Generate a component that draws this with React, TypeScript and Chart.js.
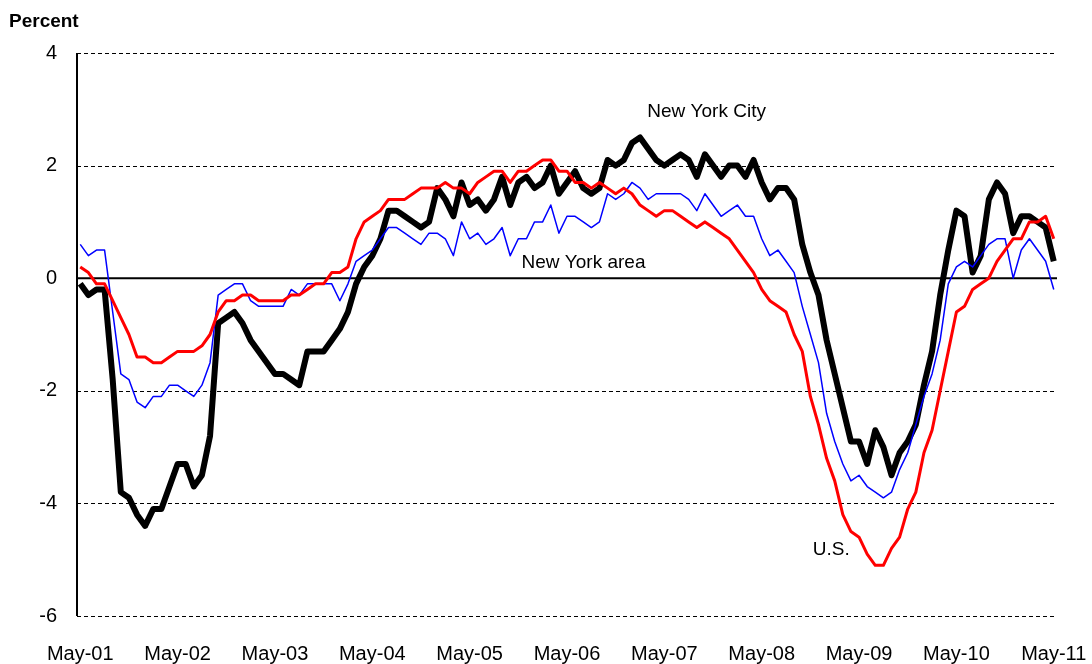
import { useEffect, useRef } from "react";
import { Chart, registerables } from "chart.js";

Chart.register(...registerables);

const xTickLabels = [
  "May-01", "May-02", "May-03", "May-04", "May-05", "May-06",
  "May-07", "May-08", "May-09", "May-10", "May-11",
];

const yTickValues = [4, 2, 0, -2, -4, -6];

// Monthly values, May 2001 .. May 2011 (121 months)
const nycValues = [
  -0.1, -0.3, -0.2, -0.2, -1.8, -3.8, -3.9, -4.2, -4.4, -4.1,
  -4.1, -3.7, -3.3, -3.3, -3.7, -3.5, -2.8, -0.8, -0.7, -0.6,
  -0.8, -1.1, -1.3, -1.5, -1.7, -1.7, -1.8, -1.9, -1.3, -1.3,
  -1.3, -1.1, -0.9, -0.6, -0.1, 0.2, 0.4, 0.7, 1.2, 1.2,
  1.1, 1.0, 0.9, 1.0, 1.6, 1.4, 1.1, 1.7, 1.3, 1.4,
  1.2, 1.4, 1.8, 1.3, 1.7, 1.8, 1.6, 1.7, 2.0, 1.5,
  1.7, 1.9, 1.6, 1.5, 1.6, 2.1, 2.0, 2.1, 2.4, 2.5,
  2.3, 2.1, 2.0, 2.1, 2.2, 2.1, 1.8, 2.2, 2.0, 1.8,
  2.0, 2.0, 1.8, 2.1, 1.7, 1.4, 1.6, 1.6, 1.4, 0.6,
  0.1, -0.3, -1.1, -1.7, -2.3, -2.9, -2.9, -3.3, -2.7, -3.0,
  -3.5, -3.1, -2.9, -2.6, -1.9, -1.3, -0.3, 0.5, 1.2, 1.1,
  0.1, 0.4, 1.4, 1.7, 1.5, 0.8, 1.1, 1.1, 1.0, 0.9,
  0.3,
];

const usValues = [
  0.2, 0.1, -0.1, -0.1, -0.4, -0.7, -1.0, -1.4, -1.4, -1.5,
  -1.5, -1.4, -1.3, -1.3, -1.3, -1.2, -1.0, -0.6, -0.4, -0.4,
  -0.3, -0.3, -0.4, -0.4, -0.4, -0.4, -0.3, -0.3, -0.2, -0.1,
  -0.1, 0.1, 0.1, 0.2, 0.7, 1.0, 1.1, 1.2, 1.4, 1.4,
  1.4, 1.5, 1.6, 1.6, 1.6, 1.7, 1.6, 1.6, 1.5, 1.7,
  1.8, 1.9, 1.9, 1.7, 1.9, 1.9, 2.0, 2.1, 2.1, 1.9,
  1.9, 1.7, 1.7, 1.6, 1.7, 1.6, 1.5, 1.6, 1.5, 1.3,
  1.2, 1.1, 1.2, 1.2, 1.1, 1.0, 0.9, 1.0, 0.9, 0.8,
  0.7, 0.5, 0.3, 0.1, -0.2, -0.4, -0.5, -0.6, -1.0, -1.3,
  -2.1, -2.6, -3.2, -3.6, -4.2, -4.5, -4.6, -4.9, -5.1, -5.1,
  -4.8, -4.6, -4.1, -3.8, -3.1, -2.7, -2.0, -1.3, -0.6, -0.5,
  -0.2, -0.1, 0.0, 0.3, 0.5, 0.7, 0.7, 1.0, 1.0, 1.1,
  0.7,
];

const nyAreaValues = [
  0.6, 0.4, 0.5, 0.5, -0.6, -1.7, -1.8, -2.2, -2.3, -2.1,
  -2.1, -1.9, -1.9, -2.0, -2.1, -1.9, -1.5, -0.3, -0.2, -0.1,
  -0.1, -0.4, -0.5, -0.5, -0.5, -0.5, -0.2, -0.3, -0.1, -0.1,
  -0.1, -0.1, -0.4, -0.1, 0.3, 0.4, 0.5, 0.7, 0.9, 0.9,
  0.8, 0.7, 0.6, 0.8, 0.8, 0.7, 0.4, 1.0, 0.7, 0.8,
  0.6, 0.7, 0.9, 0.4, 0.7, 0.7, 1.0, 1.0, 1.3, 0.8,
  1.1, 1.1, 1.0, 0.9, 1.0, 1.5, 1.4, 1.5, 1.7, 1.6,
  1.4, 1.5, 1.5, 1.5, 1.5, 1.4, 1.2, 1.5, 1.3, 1.1,
  1.2, 1.3, 1.1, 1.1, 0.7, 0.4, 0.5, 0.3, 0.1, -0.5,
  -1.0, -1.5, -2.4, -2.9, -3.3, -3.6, -3.5, -3.7, -3.8, -3.9,
  -3.8, -3.4, -3.1, -2.6, -2.1, -1.7, -1.1, -0.1, 0.2, 0.3,
  0.2, 0.4, 0.6, 0.7, 0.7, 0.0, 0.5, 0.7, 0.5, 0.3,
  -0.2,
];

// Series labels placed in data coordinates (month index, percent)
const seriesNotes = [
  { text: "New York City", x: 69.9, y: 2.86 },
  { text: "New York area", x: 54.4, y: 0.18 },
  { text: "U.S.", x: 90.3, y: -4.92 },
];

const FONT = "'Liberation Sans', Arial, Helvetica, sans-serif";

const toPoints = (vals: number[]) => vals.map((v, i) => ({ x: i, y: v }));

const framePlugin = {
  id: "frame",
  beforeDatasetsDraw(chart: any) {
    const { ctx, chartArea: a, scales } = chart;
    const y = scales.y;
    ctx.save();
    ctx.strokeStyle = "#000";
    yTickValues.forEach((v) => {
      const py = y.getPixelForValue(v);
      ctx.beginPath();
      if (v === 0) {
        ctx.setLineDash([]);
        ctx.lineWidth = 2;
        ctx.moveTo(a.left, py);
        ctx.lineTo(a.right, py);
      } else {
        ctx.setLineDash([4, 3]);
        ctx.lineWidth = 1;
        ctx.moveTo(a.left, Math.round(py) + 0.5);
        ctx.lineTo(a.right, Math.round(py) + 0.5);
      }
      ctx.stroke();
    });
    ctx.setLineDash([]);
    ctx.lineWidth = 2;
    ctx.beginPath();
    ctx.moveTo(a.left, a.top);
    ctx.lineTo(a.left, a.bottom);
    ctx.stroke();
    ctx.restore();
  },
  afterDatasetsDraw(chart: any) {
    const { ctx, scales } = chart;
    ctx.save();
    ctx.fillStyle = "#000";
    ctx.textAlign = "left";
    ctx.textBaseline = "alphabetic";
    ctx.font = `19px ${FONT}`;
    seriesNotes.forEach((n) => {
      ctx.fillText(n.text, scales.x.getPixelForValue(n.x), scales.y.getPixelForValue(n.y));
    });
    ctx.font = `bold 19px ${FONT}`;
    ctx.fillText("Percent", 9, 27);
    ctx.restore();
  },
};

export default function App() {
  const canvasRef = useRef<HTMLCanvasElement | null>(null);

  useEffect(() => {
    document.body.style.margin = "0";
    const canvas = canvasRef.current;
    if (!canvas) return;
    const chart = new Chart(canvas, {
      type: "line",
      data: {
        datasets: [
          {
            label: "U.S.",
            data: toPoints(usValues),
            borderColor: "#ff0000",
            borderWidth: 3,
            pointRadius: 0,
            tension: 0,
            borderJoinStyle: "round",
            fill: false,
          },
          {
            label: "New York area",
            data: toPoints(nyAreaValues),
            borderColor: "#0000ff",
            borderWidth: 1.5,
            pointRadius: 0,
            tension: 0,
            borderJoinStyle: "round",
            fill: false,
          },
          {
            label: "New York City",
            data: toPoints(nycValues),
            borderColor: "#000000",
            borderWidth: 6,
            pointRadius: 0,
            tension: 0,
            borderJoinStyle: "round",
            fill: false,
          },
        ],
      },
      options: {
        animation: false,
        responsive: true,
        maintainAspectRatio: false,
        layout: { padding: { top: 53, right: 35, left: 0, bottom: 0 } },
        plugins: {
          legend: { display: false },
          tooltip: { enabled: false },
          title: { display: false },
        },
        scales: {
          x: {
            type: "linear",
            min: -0.4,
            max: 120.4,
            grid: { display: false, drawTicks: false },
            border: { display: false },
            afterBuildTicks: (s: any) => {
              s.ticks = xTickLabels.map((_, k) => ({ value: k * 12 }));
            },
            afterFit: (s: any) => {
              s.height = 48;
              s.paddingLeft = 0;
              s.paddingRight = 0;
            },
            ticks: {
              autoSkip: false,
              maxRotation: 0,
              minRotation: 0,
              padding: 26,
              color: "#000",
              font: { family: FONT, size: 20 },
              callback: (v: any) => xTickLabels[Math.round(Number(v) / 12)],
            },
          },
          y: {
            type: "linear",
            min: -6,
            max: 4,
            grid: { display: false, drawTicks: false },
            border: { display: false },
            afterBuildTicks: (s: any) => {
              s.ticks = yTickValues.map((v) => ({ value: v }));
            },
            afterFit: (s: any) => {
              s.width = 77;
              s.paddingTop = 0;
              s.paddingBottom = 0;
            },
            ticks: {
              padding: 20,
              color: "#000",
              font: { family: FONT, size: 20 },
              callback: (v: any) => String(v),
            },
          },
        },
      },
      plugins: [framePlugin],
    });
    return () => chart.destroy();
  }, []);

  return (
    <div style={{ width: 1092, height: 664, position: "relative", background: "#fff" }}>
      <canvas ref={canvasRef} />
    </div>
  );
}
